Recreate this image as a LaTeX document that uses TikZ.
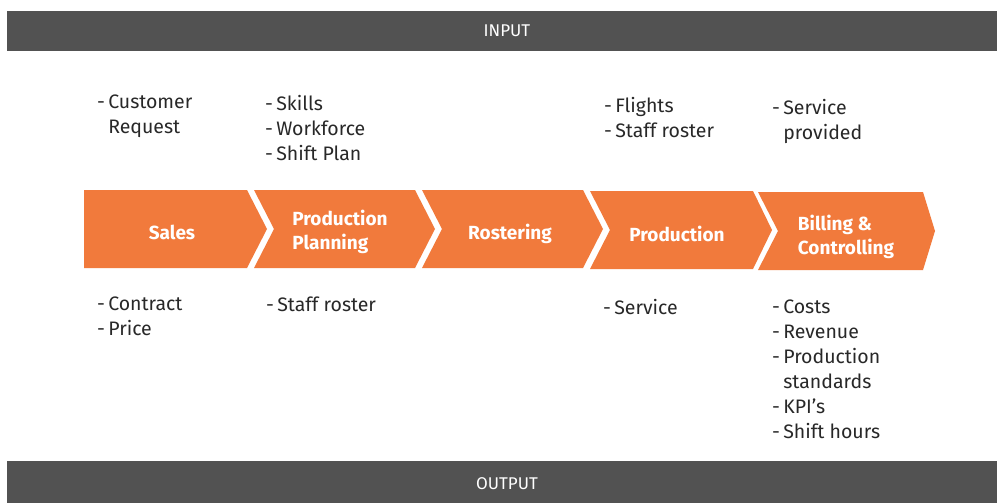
\documentclass[tikz,border=0pt]{standalone}
\usepackage{fontspec}
\setmainfont{Fira Sans}
\definecolor{orng}{RGB}{241,122,60}
\definecolor{barc}{RGB}{82,82,82}
\definecolor{txt}{RGB}{40,40,40}
\tikzset{
  chev/.style={fill=orng, draw=none},
  bartext/.style={text=white, font=\fontsize{17}{19}\selectfont},
  chevtext/.style={text=white, font=\fontsize{19}{24}\selectfont\bfseries, align=left},
  list/.style={anchor=north west, text=txt, align=left, inner sep=0pt, font=\fontsize{19.5}{25}\selectfont}
}
\newcommand{\dsh}{-\,}
\newcommand{\ind}{\phantom{-\,}}
\begin{document}
\begin{tikzpicture}[x=1pt,y=-1pt]
\useasboundingbox (0,0) rectangle (997,503);
\fill[white] (0,0) rectangle (997,503);
% bars
\fill[barc] (7,11) rectangle (997,51);
\node[bartext] (input) at (507,31) {INPUT};
\fill[barc] (7,461) rectangle (997,503);
\node[bartext] (output) at (507,484) {OUTPUT};
% chevrons
\fill[chev] (84,190) -- (247,190) -- (267,229) -- (247,268) -- (84,268) -- cycle;
\fill[chev] (254,190) -- (415,190) -- (435,229) -- (415,268) -- (254,268) -- (274,229) -- cycle;
\fill[chev] (422,190) -- (583,190) -- (603,229) -- (583,268) -- (422,268) -- (442,229) -- cycle;
\fill[chev] (590,191) -- (753,191) -- (772,230) -- (753,269) -- (590,269) -- (610,230) -- cycle;
\fill[chev] (758,192) -- (923,192) -- (935,231) -- (923,270) -- (758,270) -- (778,231) -- cycle;
\node[chevtext] (sales) at (172,232) {Sales};
\node[chevtext] (pp) at (340,232) {Production\\Planning};
\node[chevtext] (rost) at (510,234) {Rostering};
\node[chevtext] (prod) at (677,234) {Production};
\node[chevtext] (bill) at (846,237) {Billing \&\\Controlling};
% inputs
\node[list] (in1) at (97,95) {\dsh Customer\\\ind Request};
\node[list] (in2) at (265,95) {\dsh Skills\\\dsh Workforce\\\dsh Shift Plan};
\node[list] (in4) at (604,97) {\dsh Flights\\\dsh Staff roster};
\node[list] (in5) at (772,99) {\dsh Service\\\ind provided};
% outputs
\node[list] (out1) at (97,297) {\dsh Contract\\\dsh Price};
\node[list] (out2) at (266,297) {\dsh Staff roster};
\node[list] (out4) at (603,299) {\dsh Service};
\node[list] (out5) at (772,300) {\dsh Costs\\\dsh Revenue\\\dsh Production\\\ind standards\\\dsh KPI’s\\\dsh Shift hours};
\end{tikzpicture}
\end{document}
